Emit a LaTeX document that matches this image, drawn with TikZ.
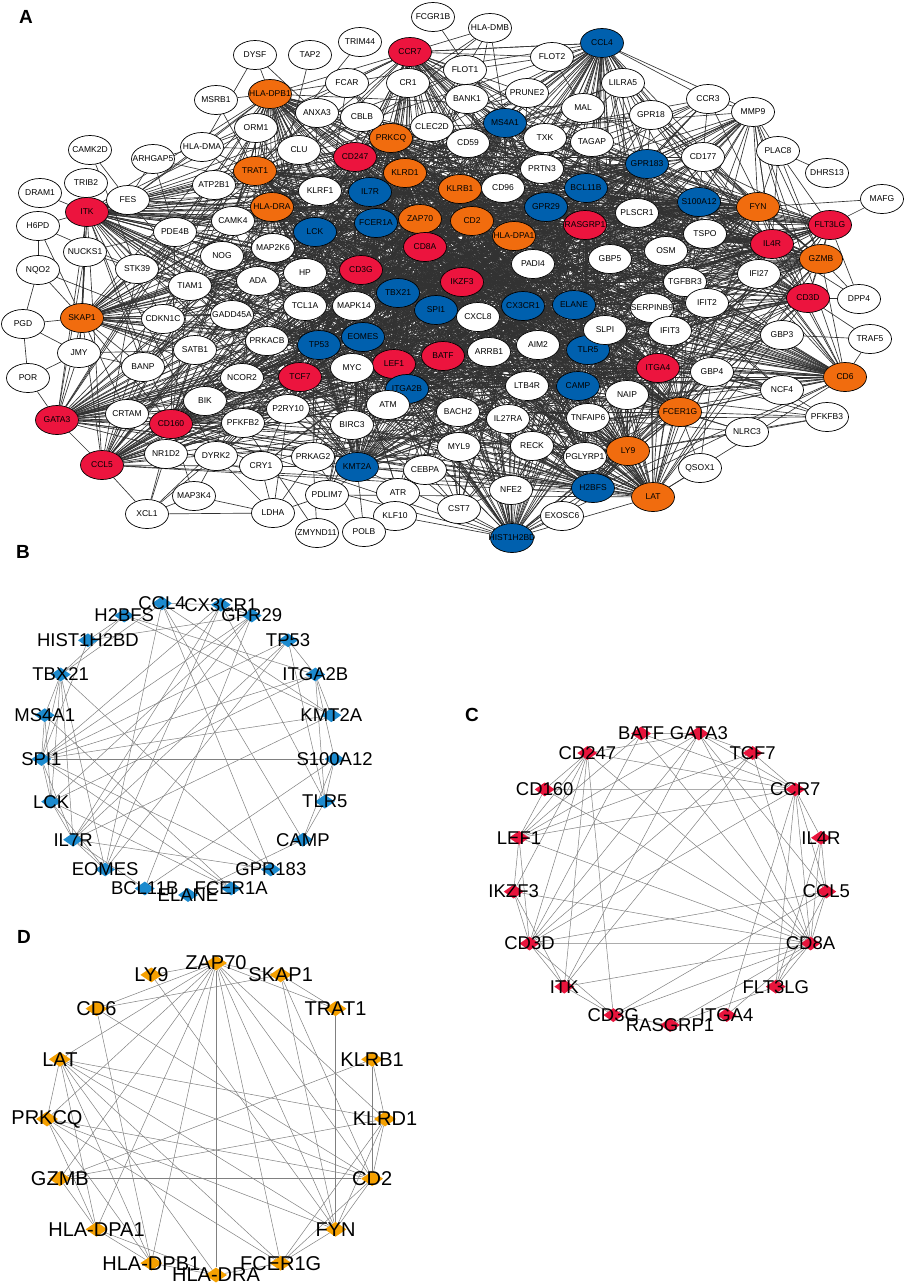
\documentclass[tikz,border=0pt]{standalone}
\usepackage{fontspec}
\setmainfont{Liberation Sans}
\usetikzlibrary{shapes.geometric,backgrounds}
\definecolor{nred}{RGB}{236,20,62}
\definecolor{norg}{RGB}{241,108,14}
\definecolor{nblu}{RGB}{0,96,174}
\definecolor{dred}{RGB}{232,20,60}
\definecolor{dorg}{RGB}{245,160,0}
\definecolor{dblu}{RGB}{28,138,206}
\definecolor{edgeA}{RGB}{50,50,50}
\definecolor{edgeB}{RGB}{128,128,128}

\def\hublist{CCR7/410/52/CCR7/nred,
CCL4/602/43/CCL4/nblu,
HLADPB1/270/94/HLA-DPB1/norg,
MS4A1/505/123/MS4A1/nblu,
PRKCQ/391/138/PRKCQ/norg,
CD247/355/157/CD247/nred,
TRAT1/255/171/TRAT1/norg,
KLRD1/405/173/KLRD1/norg,
GPR183/647/164/GPR183/nblu,
IL7R/370/192/IL7R/nblu,
KLRB1/460/189/KLRB1/norg,
BCL11B/586/188/BCL11B/nblu,
ITK/87/212/ITK/nred,
HLADRA/272/207/HLA-DRA/norg,
S100A12/699/202/S100A12/nblu,
FYN/758/207/FYN/norg,
GPR29/546/207/GPR29/nblu,
FCER1A/376/223/FCER1A/nblu,
ZAP70/420/219/ZAP70/norg,
CD2/472/221/CD2/norg,
FLT3LG/830/225/FLT3LG/nred,
RASGRP1/585/225/RASGRP1/nred,
LCK/315/232/LCK/nblu,
HLADPA1/514/236/HLA-DPA1/norg,
IL4R/772/244/IL4R/nred,
CD8A/425/247/CD8A/nred,
GZMB/821/259/GZMB/norg,
CD3G/361/270/CD3G/nred,
IKZF3/462/282/IKZF3/nred,
TBX21/398/293/TBX21/nblu,
CD3D/808/298/CD3D/nred,
SPI1/436/310/SPI1/nblu,
CX3CR1/523/306/CX3CR1/nblu,
ELANE/574/305/ELANE/nblu,
SKAP1/82/318/SKAP1/norg,
EOMES/363/337/EOMES/nblu,
TP53/319/345/TP53/nblu,
TLR5/588/350/TLR5/nblu,
BATF/443/356/BATF/nred,
LEF1/394/364/LEF1/nred,
ITGA4/658/368/ITGA4/nred,
CD6/845/377/CD6/norg,
TCF7/300/377/TCF7/nred,
ITGA2B/407/389/ITGA2B/nblu,
CAMP/578/386/CAMP/nblu,
FCER1G/680/412/FCER1G/norg,
GATA3/57/420/GATA3/nred,
CD160/171/424/CD160/nred,
LY9/628/451/LY9/norg,
CCL5/102/465/CCL5/nred,
KMT2A/357/467/KMT2A/nblu,
H2BFS/593/488/H2BFS/nblu,
LAT/653/497/LAT/norg,
HIST1H2BD/512/538/HIST1H2BD/nblu}

\def\whitelist{DYSF/255/55/DYSF/0,
TAP2/310/55/TAP2/0,
TRIM44/360/42/TRIM44/0,
FCGR1B/433/17/FCGR1B/0,
HLADMB/490/28/HLA-DMB/0,
FLOT2/552/57/FLOT2/0,
MSRB1/216/100/MSRB1/0,
FCAR/347/83/FCAR/1,
CR1/408/83/CR1/1,
FLOT1/465/70/FLOT1/1,
PRUNE2/527/93/PRUNE2/1,
BANK1/467/99/BANK1/1,
LILRA5/623/83/LILRA5/1,
CCR3/708/99/CCR3/1,
MMP9/753/112/MMP9/2,
ANXA3/317/113/ANXA3/1,
CBLB/362/117/CBLB/1,
MAL/583/108/MAL/1,
GPR18/651/115/GPR18/1,
ORM1/256/128/ORM1/1,
CLEC2D/432/127/CLEC2D/2,
TXK/545/138/TXK/2,
TAGAP/592/142/TAGAP/2,
CAMK2D/90/150/CAMK2D/0,
ARHGAP5/153/159/ARHGAP5/0,
HLADMA/202/147/HLA-DMA/0,
CLU/299/150/CLU/1,
CD59/468/143/CD59/2,
CD177/703/157/CD177/1,
PLAC8/778/151/PLAC8/0,
DHRS13/827/173/DHRS13/0,
PRTN3/542/169/PRTN3/2,
TRIB2/86/183/TRIB2/0,
DRAM1/40/193/DRAM1/0,
ATP2B1/214/185/ATP2B1/1,
FES/128/200/FES/1,
KLRF1/320/191/KLRF1/2,
CD96/503/188/CD96/2,
MAFG/882/199/MAFG/0,
PLSCR1/637/213/PLSCR1/2,
CAMK4/233/221/CAMK4/2,
H6PD/38/226/H6PD/0,
PDE4B/175/232/PDE4B/2,
TSPO/705/234/TSPO/2,
MAP2K6/273/248/MAP2K6/2,
NUCKS1/85/252/NUCKS1/1,
OSM/666/251/OSM/2,
NOG/222/256/NOG/2,
GBP5/610/259/GBP5/2,
PADI4/533/264/PADI4/3,
NQO2/38/270/NQO2/0,
STK39/137/269/STK39/1,
HP/305/273/HP/3,
IFI27/759/274/IFI27/2,
ADA/258/281/ADA/2,
TGFBR3/685/282/TGFBR3/2,
TIAM1/190/286/TIAM1/2,
DPP4/859/299/DPP4/0,
IFIT2/707/303/IFIT2/2,
TCL1A/305/306/TCL1A/3,
MAPK14/354/306/MAPK14/3,
SERPINB9/652/308/SERPINB9/2,
GADD45A/232/315/GADD45A/2,
CXCL8/478/317/CXCL8/3,
CDKN1C/163/319/CDKN1C/1,
PGD/23/324/PGD/0,
SLPI/605/330/SLPI/3,
IFIT3/670/331/IFIT3/2,
GBP3/782/335/GBP3/1,
TRAF5/870/339/TRAF5/0,
PRKACB/267/341/PRKACB/2,
AIM2/538/345/AIM2/3,
SATB1/195/350/SATB1/1,
ARRB1/489/352/ARRB1/3,
JMY/79/353/JMY/0,
BANP/143/367/BANP/1,
MYC/352/368/MYC/3,
GBP4/712/372/GBP4/2,
NCOR2/242/378/NCOR2/2,
POR/28/378/POR/0,
LTB4R/527/386/LTB4R/2,
NCF4/782/390/NCF4/1,
NAIP/627/395/NAIP/2,
BIK/205/401/BIK/2,
ATM/388/405/ATM/3,
P2RY10/288/409/P2RY10/2,
BACH2/458/412/BACH2/2,
CRTAM/127/414/CRTAM/1,
PFKFB3/827/417/PFKFB3/0,
TNFAIP6/588/418/TNFAIP6/2,
IL27RA/508/419/IL27RA/2,
PFKFB2/243/423/PFKFB2/2,
BIRC3/352/425/BIRC3/2,
NLRC3/747/432/NLRC3/0,
RECK/532/446/RECK/1,
MYL9/459/447/MYL9/2,
NR1D2/166/454/NR1D2/1,
DYRK2/216/456/DYRK2/1,
PRKAG2/313/457/PRKAG2/1,
PGLYRP1/585/457/PGLYRP1/1,
CRY1/261/466/CRY1/1,
QSOX1/700/468/QSOX1/0,
CEBPA/425/470/CEBPA/1,
NFE2/511/490/NFE2/1,
ATR/398/493/ATR/1,
PDLIM7/327/495/PDLIM7/1,
MAP3K4/194/496/MAP3K4/0,
CST7/459/509/CST7/1,
LDHA/273/513/LDHA/0,
XCL1/147/514/XCL1/0,
KLF10/395/516/KLF10/0,
EXOSC6/562/516/EXOSC6/0,
POLB/364/532/POLB/0,
ZMYND11/317/533/ZMYND11/0}

\begin{document}
\begin{tikzpicture}[x=1pt,y=-1pt,
  gn/.style={ellipse,draw=black,line width=0.7pt,minimum width=43pt,minimum height=29pt,inner sep=0pt,font=\fontsize{8.5}{10}\selectfont},
  eA/.style={draw=edgeA,line width=0.65pt},
  eB/.style={draw=edgeB,line width=0.5pt},
  dia/.style={diamond,draw=none,minimum width=20pt,minimum height=14pt,inner sep=0pt},
  diab/.style={diamond,draw=none,minimum width=22pt,minimum height=15pt,inner sep=0pt},
  plab/.style={inner sep=0pt,font=\fontsize{18.5}{20}\selectfont},
  plabd/.style={inner sep=0pt,font=\fontsize{20}{22}\selectfont},
  panel/.style={inner sep=0pt,font=\bfseries\fontsize{19}{21}\selectfont}]
\useasboundingbox (0,0) rectangle (906,1285);
\begin{scope}[on background layer]
\fill[white] (0,0) rectangle (906,1285);
\end{scope}

% ---------------- panel A ----------------
\node[panel] (labA) at (26,17) {A};
\foreach \a/\ax/\ay/\al/\ac in \hublist {
  \node[gn,fill=\ac] (\a) at (\ax,\ay) {\makebox[0pt]{\al}};
}
\foreach \a/\ax/\ay/\al/\w in \whitelist {
  \node[gn,fill=white] (\a) at (\ax,\ay) {\makebox[0pt]{\al}};
}

\begin{scope}[on background layer]
\pgfmathsetseed{12}
\foreach \a/\ax/\ay/\al/\ac [count=\i] in \hublist {
  \foreach \b/\bx/\by/\bl/\bc [count=\j] in \hublist {
    \ifnum\j>\i\relax
      \pgfmathsetmacro\pp{1.0*exp(-veclen(\ax-\bx,\ay-\by)/900)}
      \pgfmathsetmacro\rr{rnd}
      \ifdim\rr pt<\pp pt\relax \draw[eA] (\a) -- (\b);\fi
    \fi
  }
}
\foreach \a/\ax/\ay/\al/\w in \whitelist {
  \ifnum\w>0\relax
  \foreach \b/\bx/\by/\bl/\bc in \hublist {
    \pgfmathsetmacro\pp{\w*0.25*exp(-veclen(\ax-\bx,\ay-\by)/420)}
    \pgfmathsetmacro\rr{rnd}
    \ifdim\rr pt<\pp pt\relax \draw[eA] (\a) -- (\b);\fi
  }
  \fi
}
\foreach \a/\b in {DYSF/HLADPB1, DYSF/HLADMA, DYSF/ANXA3,
TAP2/HLADRA, TRIM44/TRAT1, FCGR1B/MS4A1,
HLADMB/CCR7, HLADMB/CR1, HLADMB/MS4A1, HLADMB/FLOT1, HLADMB/HLADRA, HLADMB/CD59,
CCR7/CCL4, FLOT2/FLOT1, FLOT2/CCR7, FLOT2/MAL, FLOT2/CCL4,
MSRB1/HLADPB1, MSRB1/TRAT1,
HLADMA/HLADPB1, HLADMA/HLADRA, HLADMA/TRAT1, HLADMA/FES, HLADMA/CLU, HLADMA/ORM1, HLADMA/CCR7,
CAMK2D/FES, CAMK2D/STK39,
ARHGAP5/FES, ARHGAP5/PDE4B, ARHGAP5/HLADMA, ARHGAP5/ZAP70,
DRAM1/ITK, TRIB2/ITK, TRIB2/SKAP1,
H6PD/NQO2, H6PD/ITK, H6PD/STK39, H6PD/SKAP1,
NQO2/PGD, NQO2/SKAP1, NQO2/CDKN1C,
PGD/POR, PGD/JMY, PGD/SKAP1,
POR/GATA3, POR/JMY,
JMY/SKAP1, JMY/SATB1, JMY/GATA3, JMY/NUCKS1, JMY/BANP,
NUCKS1/ITK, NUCKS1/SKAP1, NUCKS1/STK39, NUCKS1/GATA3,
STK39/SKAP1, STK39/ITK, STK39/TIAM1,
FES/ITK, FES/HLADRA, FES/ATP2B1,
SKAP1/CDKN1C, SKAP1/TIAM1, SKAP1/GADD45A, SKAP1/BANP, SKAP1/SATB1, SKAP1/CRTAM,
MAFG/FLT3LG, MAFG/FYN,
DHRS13/PLAC8,
PLAC8/MMP9, PLAC8/FYN, PLAC8/FLT3LG, PLAC8/IL4R, PLAC8/GZMB,
MMP9/CCR3, MMP9/CCL4, MMP9/GPR183, MMP9/CD177, MMP9/S100A12, MMP9/FYN, MMP9/IL4R, MMP9/GPR29, MMP9/BCL11B, MMP9/RASGRP1, MMP9/PLSCR1, MMP9/GBP5, MMP9/ELANE, MMP9/CAMP, MMP9/LAT,
CCR3/CCL4, CCR3/GPR183, CCR3/S100A12, CCR3/BCL11B, CCR3/RASGRP1,
LILRA5/CCL4, LILRA5/GPR183, GPR18/CCL4, GPR18/GPR183,
DPP4/CD3D, DPP4/GZMB, DPP4/IL4R, DPP4/FLT3LG,
TRAF5/GBP3, TRAF5/CD3D, TRAF5/CD6,
PFKFB3/NCF4, PFKFB3/FCER1G, PFKFB3/NAIP, PFKFB3/TNFAIP6, PFKFB3/LY9, PFKFB3/GBP4, PFKFB3/ITGA4, PFKFB3/NLRC3,
NCF4/GBP4, NCF4/FCER1G, NCF4/ITGA4, NCF4/CD6,
NLRC3/LY9, NLRC3/FCER1G, NLRC3/NAIP, NLRC3/TNFAIP6,
QSOX1/FCER1G, QSOX1/LAT, QSOX1/GBP4,
EXOSC6/HIST1H2BD, EXOSC6/H2BFS,
XCL1/LDHA, XCL1/CCL5, XCL1/NR1D2, XCL1/DYRK2, XCL1/MAP3K4, XCL1/CD160, XCL1/PFKFB2,
LDHA/DYRK2, LDHA/CRY1, LDHA/MAP3K4, LDHA/PRKAG2, LDHA/PDLIM7, LDHA/P2RY10,
MAP3K4/DYRK2, MAP3K4/CD160,
ZMYND11/PRKAG2, ZMYND11/PFKFB2,
POLB/KMT2A, POLB/ATR, POLB/PRKAG2,
KLF10/CEBPA, KLF10/ATR, KLF10/HIST1H2BD,
CST7/HIST1H2BD, CST7/CEBPA, CST7/MYL9,
NFE2/HIST1H2BD, NFE2/H2BFS, NFE2/CEBPA}
  {\draw[eA] (\a) -- (\b);}
\end{scope}

% ---------------- panel B ----------------
\node[panel] (labB) at (23,552) {B};
\foreach \n/\t in {CX3CR1/12.9,GPR29/25.7,TP53/42.9,ITGA2B/60,KMT2A/77.1,S100A12/94.3,TLR5/111.4,CAMP/128.6,GPR183/145.7,FCER1A/162.9,ELANE/180,BCL11B/197.1,EOMES/214.3,IL7R/231.4,LCK/248.6,SPI1/265.7,MS4A1/282.9,TBX21/300,HIST1H2BD/317.1,H2BFS/334.3,CCL4/349.8} {
  \node[dia,fill=dblu] (b\n) at ({188+147*sin(\t)},{748-147*cos(\t)}) {};
  \node[plab] (bt\n) at (b\n) {\n};
}
\begin{scope}[on background layer]
\foreach \a/\b in {SPI1/S100A12, SPI1/ITGA2B, SPI1/KMT2A, SPI1/TP53, SPI1/GPR29, SPI1/CX3CR1, SPI1/TBX21, SPI1/MS4A1, SPI1/LCK, SPI1/IL7R, SPI1/GPR183, SPI1/FCER1A, SPI1/HIST1H2BD,
CCL4/CX3CR1, CCL4/TBX21, CCL4/KMT2A, CCL4/CAMP, CCL4/GPR183, CCL4/EOMES,
CX3CR1/GPR29, CX3CR1/IL7R, CX3CR1/EOMES, CX3CR1/TLR5,
H2BFS/HIST1H2BD, H2BFS/ITGA2B, H2BFS/TBX21, H2BFS/KMT2A,
GPR29/IL7R, GPR29/LCK, GPR29/HIST1H2BD, GPR29/BCL11B,
TP53/ITGA2B, TP53/EOMES, TP53/TLR5, TP53/IL7R,
TBX21/MS4A1, TBX21/LCK, TBX21/IL7R, TBX21/EOMES, TBX21/GPR183,
ITGA2B/KMT2A, ITGA2B/S100A12, ITGA2B/LCK, ITGA2B/TLR5,
MS4A1/FCER1A, MS4A1/LCK, KMT2A/IL7R,
S100A12/TLR5, S100A12/CAMP, S100A12/BCL11B, TLR5/CAMP,
LCK/IL7R, LCK/EOMES, LCK/FCER1A,
IL7R/EOMES, IL7R/BCL11B, IL7R/GPR183, CAMP/ELANE}
  {\draw[eB] (b\a) -- (b\b);}
\end{scope}

% ---------------- panel C ----------------
\node[panel] (labC) at (472,715) {C};
\foreach \n [count=\k from 0] in {GATA3,TCF7,CCR7,IL4R,CCL5,CD8A,FLT3LG,ITGA4,RASGRP1,CD3G,ITK,CD3D,IKZF3,LEF1,CD160,CD247,BATF} {
  \node[dia,fill=dred] (c\n) at ({670+157*sin(10.588+21.176*\k)},{878-147*cos(10.588+21.176*\k)}) {};
  \node[plab] (ct\n) at (c\n) {\n};
}
\begin{scope}[on background layer]
\foreach \a/\b in {BATF/GATA3, BATF/CD8A, BATF/CCR7, BATF/LEF1, BATF/CD3D,
GATA3/TCF7, GATA3/CCR7, GATA3/CD8A, GATA3/ITK, GATA3/CD3D, GATA3/CCL5, GATA3/LEF1, GATA3/CD247,
CD247/ITK, CD247/CD3G, CD247/CD3D, CD247/LEF1, CD247/CD160, CD247/CD8A, CD247/CCR7, CD247/IKZF3,
TCF7/CCR7, TCF7/LEF1, TCF7/CD3D, TCF7/ITK, TCF7/CD8A,
CD160/CCR7, CD160/LEF1, CD160/CD8A,
CCR7/IL4R, CCR7/CCL5, CCR7/CD8A, CCR7/FLT3LG, CCR7/ITGA4, CCR7/LEF1, CCR7/CD3D,
LEF1/IKZF3, LEF1/CD3D, LEF1/CD8A,
IL4R/CCL5, IL4R/CD8A, IL4R/FLT3LG,
IKZF3/CD3D, IKZF3/CD8A, IKZF3/ITK,
CCL5/CD8A, CCL5/FLT3LG, CCL5/CD3D, CCL5/CD3G,
CD3D/CD8A, CD3D/ITK, CD3D/CD3G,
CD8A/ITK, CD8A/CD3G, CD8A/FLT3LG, CD8A/ITGA4, CD8A/RASGRP1,
ITK/CD3G, CD3G/RASGRP1, FLT3LG/RASGRP1}
  {\draw[eB] (c\a) -- (c\b);}
\end{scope}

% ---------------- panel D ----------------
\node[panel] (labD) at (24,937) {D};
\foreach \n/\l [count=\k from 0] in {ZAP70/ZAP70,SKAP1/SKAP1,TRAT1/TRAT1,KLRB1/KLRB1,KLRD1/KLRD1,CD2/CD2,FYN/FYN,FCER1G/FCER1G,HLADRA/HLA-DRA,HLADPB1/HLA-DPB1,HLADPA1/HLA-DPA1,GZMB/GZMB,PRKCQ/PRKCQ,LAT/LAT,CD6/CD6,LY9/LY9} {
  \node[diab,fill=dorg] (d\n) at ({216+169*sin(22.5*\k)},{1119-156*cos(22.5*\k)}) {};
  \node[plabd] (dt\n) at (d\n) {\l};
}
\begin{scope}[on background layer]
\foreach \a/\b in {ZAP70/LY9, ZAP70/SKAP1, ZAP70/CD6, ZAP70/LAT, ZAP70/PRKCQ, ZAP70/GZMB, ZAP70/HLADPA1, ZAP70/HLADPB1, ZAP70/HLADRA, ZAP70/FCER1G, ZAP70/FYN, ZAP70/CD2, ZAP70/KLRD1, ZAP70/TRAT1,
SKAP1/TRAT1, SKAP1/FYN, SKAP1/CD2, LY9/FYN,
CD6/SKAP1, CD6/HLADPB1, CD6/CD2,
TRAT1/FYN, KLRB1/KLRD1, KLRB1/CD2, KLRB1/GZMB,
KLRD1/CD2, KLRD1/FYN, KLRD1/FCER1G, KLRD1/GZMB, KLRD1/LAT,
CD2/GZMB, CD2/FYN, CD2/FCER1G, CD2/LAT, CD2/PRKCQ,
LAT/PRKCQ, LAT/HLADPA1, LAT/HLADPB1, LAT/HLADRA, LAT/FYN, LAT/FCER1G,
PRKCQ/HLADPA1, PRKCQ/HLADPB1, PRKCQ/FYN, PRKCQ/FCER1G,
GZMB/HLADPA1, HLADPA1/HLADPB1, HLADPA1/HLADRA, HLADPB1/HLADRA,
FCER1G/FYN, FCER1G/HLADRA}
  {\draw[eB] (d\a) -- (d\b);}
\end{scope}
\end{tikzpicture}
\end{document}
